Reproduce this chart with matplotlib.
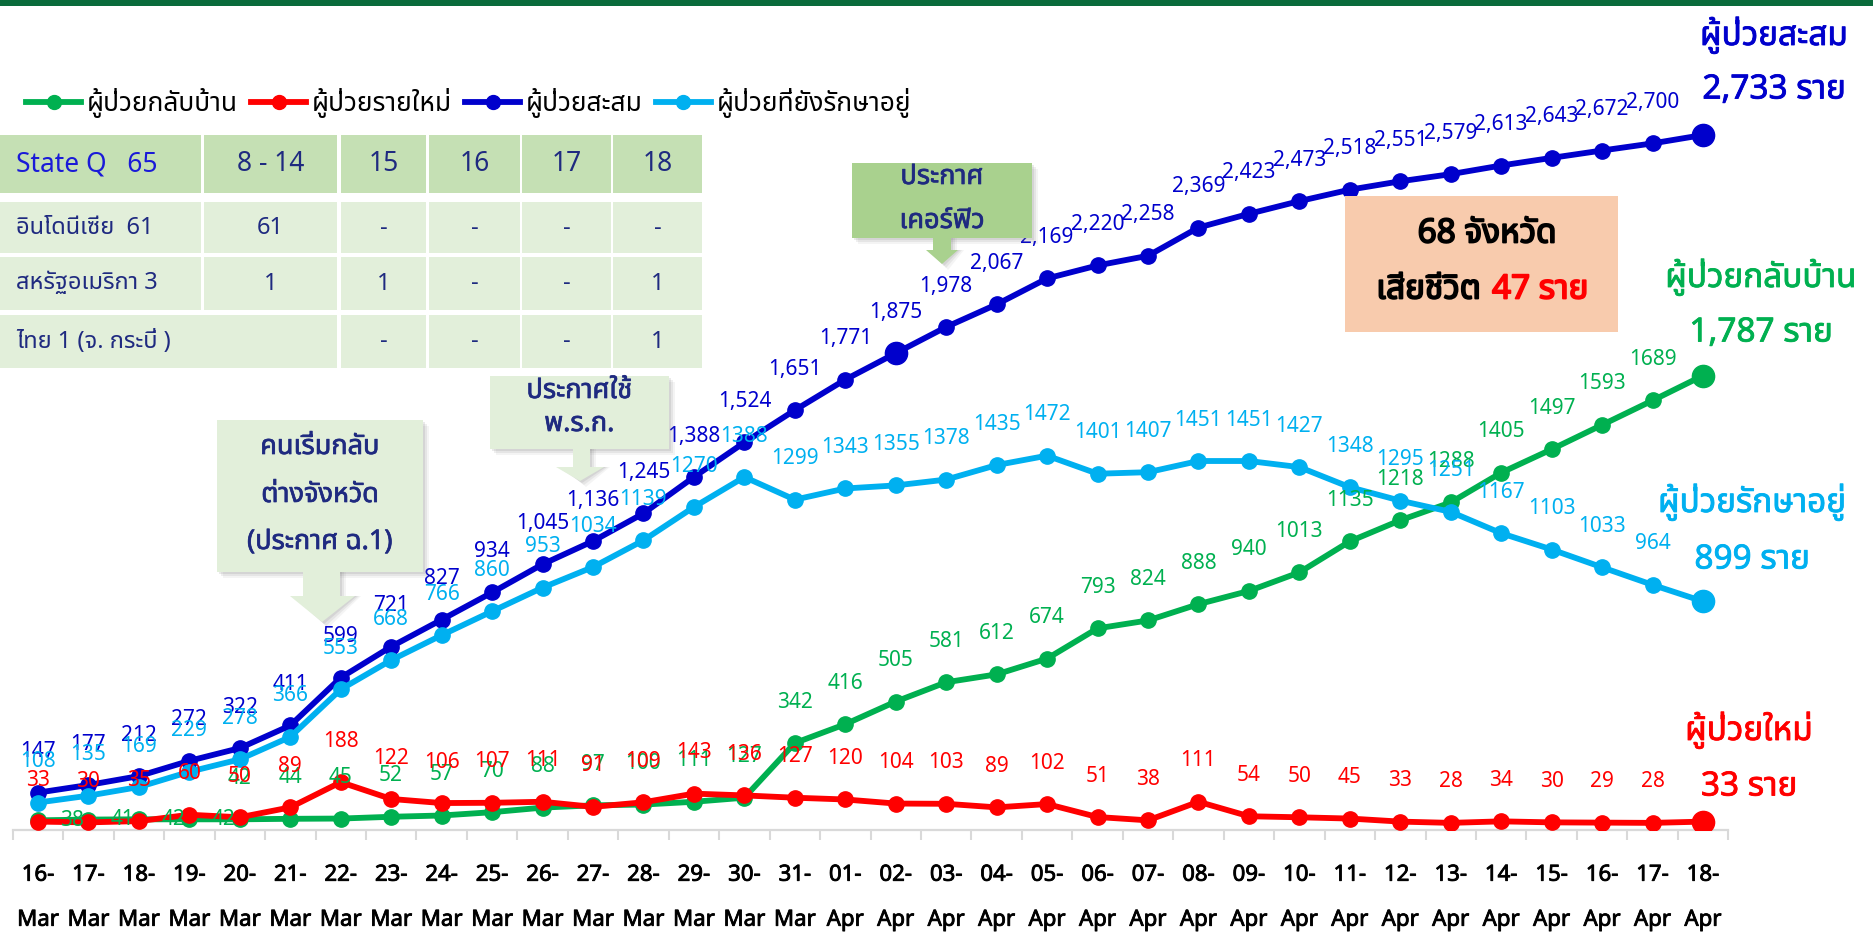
import matplotlib
matplotlib.use("Agg")
import matplotlib.pyplot as plt
from matplotlib import font_manager as fm
from matplotlib.ft2font import FT2Font
from matplotlib.lines import Line2D
from matplotlib.patches import Rectangle, Polygon
import matplotlib.patheffects as pe
import numpy as np

# ---------------- data ----------------
dates = ['16-Mar', '17-Mar', '18-Mar', '19-Mar', '20-Mar', '21-Mar', '22-Mar', '23-Mar',
         '24-Mar', '25-Mar', '26-Mar', '27-Mar', '28-Mar', '29-Mar', '30-Mar', '31-Mar',
         '01-Apr', '02-Apr', '03-Apr', '04-Apr', '05-Apr', '06-Apr', '07-Apr', '08-Apr',
         '09-Apr', '10-Apr', '11-Apr', '12-Apr', '13-Apr', '14-Apr', '15-Apr', '16-Apr',
         '17-Apr', '18-Apr']
recovered = [38, 41, 42, 42, 42, 44, 45, 52, 57, 70, 88, 97, 100, 111, 127, 342, 416, 505,
             581, 612, 674, 793, 824, 888, 940, 1013, 1135, 1218, 1288, 1405, 1497, 1593,
             1689, 1787]
new_cases = [33, 30, 35, 60, 50, 89, 188, 122, 106, 107, 111, 91, 109, 143, 136, 127, 120,
             104, 103, 89, 102, 51, 38, 111, 54, 50, 45, 33, 28, 34, 30, 29, 28, 33]
cumulative = [147, 177, 212, 272, 322, 411, 599, 721, 827, 934, 1045, 1136, 1245, 1388, 1524,
              1651, 1771, 1875, 1978, 2067, 2169, 2220, 2258, 2369, 2423, 2473, 2518, 2551,
              2579, 2613, 2643, 2672, 2700, 2733]
in_treatment = [108, 135, 169, 229, 278, 366, 553, 668, 766, 860, 953, 1034, 1139, 1270, 1388,
                1299, 1343, 1355, 1378, 1435, 1472, 1401, 1407, 1451, 1451, 1427, 1348, 1295,
                1251, 1167, 1103, 1033, 964, 899]
series_names = ['ผู้ป่วยกลับบ้าน', 'ผู้ป่วยรายใหม่', 'ผู้ป่วยสะสม', 'ผู้ป่วยที่ยังรักษาอยู่']
end_names = ['ผู้ป่วยกลับบ้าน', 'ผู้ป่วยใหม่', 'ผู้ป่วยสะสม', 'ผู้ป่วยรักษาอยู่']
big_marker_cumulative = ['02-Apr']

table_header = ['State Q   65', '8 - 14', '15', '16', '17', '18']
table_rows = [
    ['อินโดนีเซีย  61', '61', '-', '-', '-', '-'],
    ['สหรัฐอเมริกา 3', '1', '1', '-', '-', '1'],
    ['ไทย 1 (จ. กระบี่ )', '', '-', '-', '-', '1'],
]
note_homecoming = ['คนเริ่มกลับ', 'ต่างจังหวัด', '(ประกาศ ฉ.1)']
note_decree = ['ประกาศใช้', 'พ.ร.ก.']
note_curfew = ['ประกาศ', 'เคอร์ฟิว']
provinces = '68 จังหวัด'
deaths_label = 'เสียชีวิต'
deaths = 47

# ---------------- fonts ----------------
pref = ['Tahoma', 'Leelawadee UI', 'Leelawadee', 'Noto Sans Thai', 'Noto Sans Thai UI',
        'Noto Sans Thai Looped', 'Sarabun', 'Loma', 'Garuda', 'Kinnari', 'Waree', 'Umpush',
        'Laksaman', 'Norasi', 'Sawasdee', 'Tlwg Typo']
thai_found = []
for fe in fm.fontManager.ttflist:
    try:
        cm = FT2Font(fe.fname).get_charmap()
    except Exception:
        continue
    if 0x0E1C in cm and 0x0E27 in cm:
        thai_found.append(fe.name)
thai_font = None
for p in pref:
    if p in thai_found:
        thai_font = p
        break
if thai_font is None and thai_found:
    thai_font = sorted(set(thai_found))[0]
FAM = ([thai_font] if thai_font else []) + ['DejaVu Sans']
plt.rcParams['font.family'] = FAM

GREEN = '#00b050'
RED = '#ff0000'
BLUE = '#0000cc'
LBLUE = '#00b0f0'
NAVY = '#1f2a80'


def fbold(col, w=1.1):
    return [pe.withStroke(linewidth=w, foreground=col)]


W, H = 1874, 941
fig = plt.figure(figsize=(W / 100, H / 100), dpi=100)
fig.patch.set_facecolor('white')

# main axes: x(0)=38px, x(33)=1703px ; y=0 at 830px, 0.2543 px/unit
step = (1703 - 38) / 33
left = 38 - step / 2
ymax = 3000
ppu = 0.2543
top_px = 830 - ymax * ppu
ax = fig.add_axes([left / W, (H - 830) / H, step * 34 / W, (830 - top_px) / H])
ax.set_xlim(-0.5, 33.5)
ax.set_ylim(0, ymax)
ax.patch.set_alpha(0)
for s in ['top', 'right', 'left']:
    ax.spines[s].set_visible(False)
ax.spines['bottom'].set_color('#d9d9d9')
ax.spines['bottom'].set_linewidth(1.6)
ax.set_yticks([])
x = np.arange(len(dates))
ax.set_xticks(x)
ax.set_xticklabels([d.replace('-', '-\n') for d in dates], fontsize=16,
                   fontweight='bold', linespacing=2.5, color='black')
for t in ax.get_xticklabels():
    t.set_path_effects(fbold('black', 0.6))
ax.tick_params(axis='x', which='major', length=0, pad=25)
ax.set_xticks(np.arange(-0.5, 34, 1), minor=True)
ax.tick_params(axis='x', which='minor', length=7, width=1.5, color='#d9d9d9')

series = [
    (recovered, GREEN, 2, '{:d}'),
    (new_cases, RED, 3, '{:d}'),
    (cumulative, BLUE, 4, '{:,}'),
    (in_treatment, LBLUE, 5, '{:d}'),
]
LFS = 15
handles = []
for vals, col, z, fmt in series:
    ax.plot(x, vals, color=col, lw=4.2, marker='o', ms=11, zorder=z, solid_capstyle='round')
    ax.plot(x[-1], vals[-1], 'o', color=col, ms=16, zorder=z)
    handles.append(Line2D([], [], color=col, lw=4.2, marker='o', ms=10))
    for i in range(len(vals) - 1):
        if vals is recovered and i < 4:
            ax.annotate(fmt.format(vals[i]), (x[i], vals[i]), xytext=(16, 0),
                        textcoords='offset points', ha='left', va='center',
                        fontsize=LFS, color=col, zorder=10)
        else:
            ax.annotate(fmt.format(vals[i]), (x[i], vals[i]), xytext=(0, 29.5),
                        textcoords='offset points', ha='center', va='center',
                        fontsize=LFS, color=col, zorder=10)
for d in big_marker_cumulative:
    i = dates.index(d)
    ax.plot(x[i], cumulative[i], 'o', color=BLUE, ms=16, zorder=4)

fig.legend(handles, series_names, loc='center left', bbox_to_anchor=(26 / W, 1 - 103 / H),
           ncol=4, frameon=False, fontsize=19, handlelength=2.1, handletextpad=0.2,
           columnspacing=0.5, borderaxespad=0, borderpad=0)

# ---------------- overlay (pixel coordinates) ----------------
ov = fig.add_axes([0, 0, 1, 1])
ov.set_xlim(0, W)
ov.set_ylim(H, 0)
ov.axis('off')
ov.patch.set_alpha(0)
ov.set_zorder(6)

ov.add_patch(Rectangle((0, 0), W, 6, color='#0a6b3b', lw=0))

# table
col_edges = [(0, 201), (204, 337), (341, 426), (429, 520), (522, 611), (613, 702)]
row_edges = [(135, 193), (202, 253), (257, 310), (315, 368)]
for ci, (x0, x1) in enumerate(col_edges):
    y0, y1 = row_edges[0]
    ov.add_patch(Rectangle((x0, y0), x1 - x0, y1 - y0, color='#c5e0b4', lw=0))
    txt = table_header[ci]
    if ci == 0:
        ov.text(x0 + 16, (y0 + y1) / 2, txt, fontsize=19, color='#1a1ad8', ha='left', va='center')
    else:
        ov.text((x0 + x1) / 2, (y0 + y1) / 2, txt, fontsize=19, color=NAVY, ha='center', va='center')
for ri, row in enumerate(table_rows):
    y0, y1 = row_edges[ri + 1]
    merged = row[1] == ''
    for ci, (x0, x1) in enumerate(col_edges):
        if merged and ci == 1:
            continue
        xe = col_edges[1][1] if (merged and ci == 0) else x1
        ov.add_patch(Rectangle((x0, y0), xe - x0, y1 - y0, color='#e2efda', lw=0))
        if ci == 0:
            ov.text(x0 + 16, (y0 + y1) / 2, row[ci], fontsize=17, color=NAVY, ha='left', va='center')
        else:
            ov.text((x0 + x1) / 2, (y0 + y1) / 2, row[ci], fontsize=17, color=NAVY, ha='center', va='center')


def callout(bx0, by0, bx1, by1, fc, lines, line_ys, shaft, head, tip, fs, shadow=True):
    if shadow:
        for k, a in [(6, 0.08), (4, 0.12), (2, 0.16)]:
            ov.add_patch(Rectangle((bx0 + k, by0 + k), bx1 - bx0, by1 - by0, color='#7f7f7f',
                                   alpha=a, lw=0))
            ov.add_patch(Polygon([(shaft[0] + k, by1), (shaft[1] + k, by1), (shaft[1] + k, shaft[2]),
                                  (head[1] + k, shaft[2]), (tip[0] + k, tip[1] + k),
                                  (head[0] + k, shaft[2]), (shaft[0] + k, shaft[2])],
                                 closed=True, color='#7f7f7f', alpha=a, lw=0))
    ov.add_patch(Rectangle((bx0, by0), bx1 - bx0, by1 - by0, color=fc, lw=0))
    ov.add_patch(Polygon([(shaft[0], by1 - 1), (shaft[1], by1 - 1), (shaft[1], shaft[2]),
                          (head[1], shaft[2]), tip, (head[0], shaft[2]), (shaft[0], shaft[2])],
                         closed=True, color=fc, lw=0))
    cx = (bx0 + bx1) / 2
    for t, yy in zip(lines, line_ys):
        ov.text(cx, yy, t, fontsize=fs, color=NAVY, ha='center', va='center',
                path_effects=fbold(NAVY, 0.5))


callout(217, 420, 423, 572, '#e2efda', note_homecoming, [447, 495, 542],
        (303, 340, 596), (290, 355), (322, 622), 19.5)
callout(490, 376, 669, 449, '#e2efda', note_decree, [391, 424],
        (573, 590, 467), (556, 604), (580, 481), 19.5)
callout(852, 163, 1032, 238, '#a9d18e', note_curfew, [177, 221],
        (933, 951, 250), (926, 958), (942, 264), 19.5, shadow=True)

# peach box
ov.add_patch(Rectangle((1345, 196), 273, 136, color='#f8cbad', lw=0))
ov.text(1487, 234, provinces, fontsize=24, fontweight='bold', color='black', ha='center',
        va='center', path_effects=fbold('black', 1.3))
ov.text(1481, 290, deaths_label, fontsize=24, fontweight='bold', color='black', ha='right',
        va='center', path_effects=fbold('black', 1.3))
ov.text(1492, 290, f'{deaths} ราย', fontsize=24, fontweight='bold', color=RED, ha='left',
        va='center', path_effects=fbold(RED, 1.3))

# end labels
end_spec = [
    (end_names[2], cumulative[-1], '{:,}', BLUE, 1774, 35, 90),
    (end_names[0], recovered[-1], '{:,}', GREEN, 1761, 277, 333),
    (end_names[3], in_treatment[-1], '{:,}', LBLUE, 1752, 502, 560),
    (end_names[1], new_cases[-1], '{:,}', RED, 1749, 730, 787),
]
for name, val, fmt, col, cx, y1, y2 in end_spec:
    ov.text(cx, y1, name, fontsize=24, color=col, ha='center', va='center',
            path_effects=fbold(col, 0.6))
    ov.text(cx, y2, fmt.format(val) + ' ราย', fontsize=24, color=col, ha='center', va='center',
            path_effects=fbold(col, 0.6))

fig.savefig('out.png', dpi=100, facecolor='white')
